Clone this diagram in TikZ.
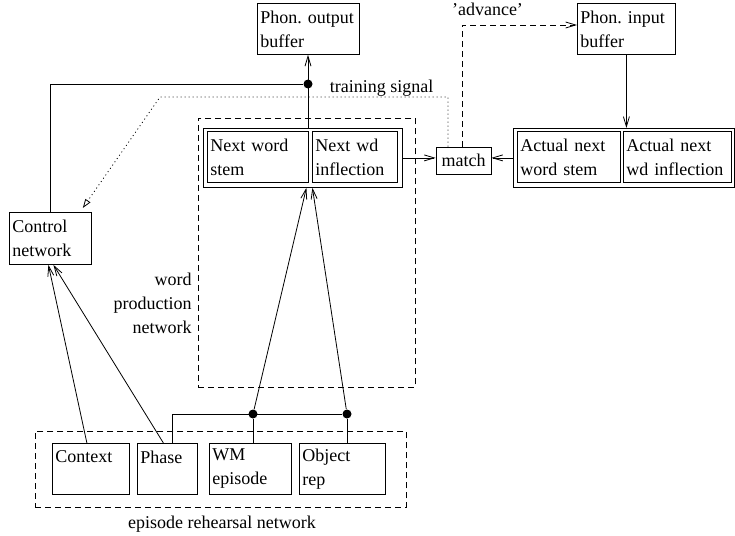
\documentclass[tikz,border=0pt]{standalone}
\usepackage{fontspec}
\setmainfont{Liberation Serif}
\usepackage{tikz}
\usetikzlibrary{arrows.meta}

\tikzset{
    box/.style={draw, anchor=north west, align=left, inner xsep=3pt, inner ysep=0pt},
    dashbox/.style={draw, anchor=north west, dash pattern=on 6pt off 4pt},
    dashline/.style={dash pattern=on 6pt off 4pt},
    dotline/.style={dash pattern=on 1pt off 3pt},
    arr/.style={-{Straight Barb[length=10pt,width=6pt]}},
    dot/.style={circle, fill, inner sep=0pt, minimum size=9pt},
}

\begin{document}
\begin{tikzpicture}[x=1pt, y=-1pt, line width=0.8pt, font=\fontsize{18}{24}\selectfont]
    %% Background
    \useasboundingbox (0,0) rectangle (735,535);
    %% Buffers and control
    \node[box, minimum width=102pt, minimum height=51pt, text width=96pt] (outbuf) at (257,3) {Phon.~output\\buffer};
    \node[box, minimum width=98pt, minimum height=51pt, text width=92pt] (inbuf) at (577,3) {Phon.~input\\buffer};
    \node[box, minimum width=82pt, minimum height=52pt, text width=76pt] (ctrl) at (9,212) {Control\\network};
    %% Word production network
    \node[dashbox, minimum width=217pt, minimum height=269pt] (wpnet) at (198,118) {};
    \node[anchor=east, align=right, inner sep=0pt] (wplabel) at (192,303) {word\\production\\network};
    \node[draw, anchor=north west, minimum width=199pt, minimum height=59pt] (nextpair) at (203,128) {};
    \node[box, minimum width=101pt, minimum height=51pt, text width=95pt] (stem) at (207,131) {Next~word\\stem};
    \node[box, minimum width=85pt, minimum height=51pt, text width=79pt] (infl) at (312,131) {Next~wd\\inflection};
    %% Comparison
    \node[draw, minimum width=55pt, minimum height=27pt, inner sep=0pt] (match) at (463.5,160.5) {match};
    \node[draw, anchor=north west, minimum width=221pt, minimum height=59pt] (actpair) at (513,128) {};
    \node[box, minimum width=103pt, minimum height=51pt, text width=97pt] (actstem) at (517,131) {Actual~next\\word~stem};
    \node[box, minimum width=108pt, minimum height=51pt, text width=102pt] (actinfl) at (623,131) {Actual~next\\wd~inflection};
    %% Episode rehearsal network
    \node[dashbox, minimum width=371pt, minimum height=76pt] (ernet) at (35,431) {};
    \node[anchor=base] (erlabel) at (222,528) {episode rehearsal network};
    \node[box, minimum width=77pt, minimum height=51pt, text width=71pt] (context) at (52,443) {Context\\\mbox{}};
    \node[box, minimum width=60pt, minimum height=51pt, text width=54pt] (phase) at (137,443) {Phase\\\mbox{}};
    \node[box, minimum width=82pt, minimum height=51pt, text width=76pt] (wm) at (209,443) {WM\\episode};
    \node[box, minimum width=86pt, minimum height=51pt, text width=80pt] (obj) at (299,443) {Object\\rep};
    %% Labels
    \node[anchor=base] (tslabel) at (381.5,92) {training signal};
    \node[anchor=base] (advlabel) at (487.5,16) {'advance'};
    %% Junctions
    \node[dot] (dotA) at (308,84) {};
    \node[dot] (dotB) at (253,414) {};
    \node[dot] (dotC) at (347,414) {};
    \coordinate (busL) at (172,414);
    \coordinate (tsR) at (448,97);
    \coordinate (tsL) at (160,97);
    \coordinate (advT) at (462,25);
    %% Output and control
    \draw[arr] (nextpair.north -| dotA) to (dotA |- outbuf.south);
    \draw (dotA) -| (ctrl.north);
    \draw[dotline, -{Triangle[open,length=9pt,width=6pt]}] (match.north -| tsR) to (tsR) to (tsL) to ([shift={(-9pt,4pt)}]ctrl.north east);
    %% Matching
    \draw[dashline, arr] (match.north -| advT) to (advT) to (advT -| inbuf.west);
    \draw[arr] (nextpair.east) to (nextpair.east -| match.west);
    \draw[arr] (actpair.west) to (actpair.west -| match.east);
    \draw[arr] (inbuf.south) to (inbuf.south |- actpair.north);
    %% Episode inputs
    \draw (busL |- phase.north) to (busL) to (dotC);
    \draw (dotB |- wm.north) to (dotB);
    \draw (dotC |- obj.north) to (dotC);
    \draw[arr] (dotB) to ([xshift=3.5pt]nextpair.south);
    \draw[arr] (dotC) to ([xshift=9.5pt]nextpair.south);
    \draw[arr] ([xshift=-4pt]context.north) to ([xshift=-2pt]ctrl.south);
    \draw[arr] ([xshift=-4pt]phase.north) to ([xshift=3pt]ctrl.south);
\end{tikzpicture}
\end{document}
